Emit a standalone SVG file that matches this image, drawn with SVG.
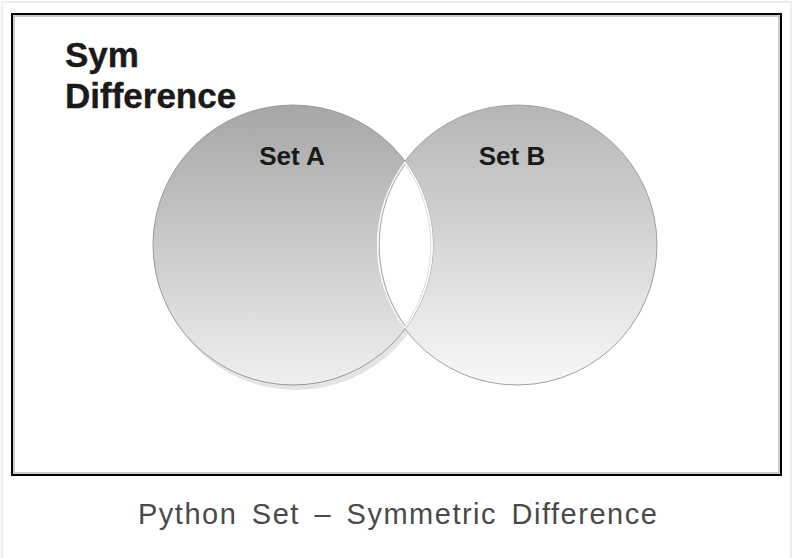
<svg xmlns="http://www.w3.org/2000/svg" width="794" height="558" viewBox="0 0 794 558">
<defs>
<linearGradient id="gA" x1="0" y1="0" x2="0" y2="1">
<stop offset="0" stop-color="#a6a6a6"/>
<stop offset="1" stop-color="#efefef"/>
</linearGradient>
<linearGradient id="gB" x1="0" y1="0" x2="0" y2="1">
<stop offset="0" stop-color="#b5b5b5"/>
<stop offset="1" stop-color="#f8f8f8"/>
</linearGradient>
<style>
.lbl{font-family:"Liberation Sans",Arial,sans-serif;font-weight:bold;fill:#1a1a1a;}
.cap{font-family:"Liberation Sans",Arial,sans-serif;fill:#4a4a4a;}
</style>
</defs>
<rect x="0" y="0" width="794" height="558" fill="#ffffff"/>
<rect x="2" y="2" width="789" height="570" fill="none" stroke="#eeeeee" stroke-width="2"/>
<rect x="12" y="14" width="769" height="461" fill="#ffffff" stroke="#000000" stroke-width="2"/>
<rect x="14" y="16" width="765" height="457" fill="none" stroke="#999999" stroke-width="1"/>
<g id="title">
<text class="lbl" x="65" y="67" font-size="35" stroke="#1a1a1a" stroke-width="0.4">Sym</text>
<text class="lbl" x="65" y="108" font-size="35" stroke="#1a1a1a" stroke-width="0.4">Difference</text>
</g>
<g id="setA">
<circle cx="296" cy="250" r="140" fill="#e4e4e4"/>
<circle cx="293" cy="245" r="140" fill="url(#gA)" stroke="#9a9a9a" stroke-width="1"/>
<text class="lbl" x="292" y="165" font-size="26" text-anchor="middle">Set A</text>
</g>
<g id="setB">
<path d="M405,161 A140,140 0 1,1 405,329 A140,140 0 0,0 405,161 Z" fill="url(#gB)" stroke="#a0a0a0" stroke-width="1"/>
<text class="lbl" x="512" y="165" font-size="26" text-anchor="middle">Set B</text>
</g>
<g id="lens">
<path d="M405,161 A140,140 0 0,1 405,329 A140,140 0 0,1 405,161 Z" fill="#ffffff"/>
<path d="M405,164 A140,140 0 0,0 405,326" fill="none" stroke="#999999" stroke-width="1.2" opacity="0.8"/>
<path d="M405,164 A140,140 0 0,1 405,326" fill="none" stroke="#cccccc" stroke-width="1" opacity="0.7"/>
</g>
<g id="caption">
<text class="cap" x="138" y="524" font-size="29" letter-spacing="1.5" word-spacing="5">Python Set – Symmetric Difference</text>
</g>
</svg>
